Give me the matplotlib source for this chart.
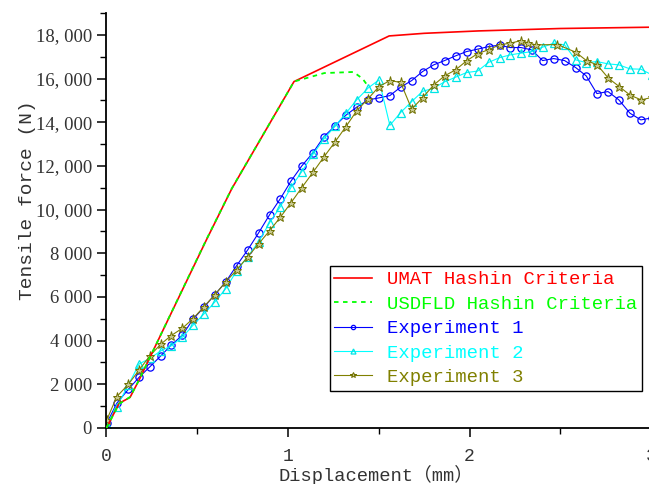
import matplotlib
matplotlib.use("Agg")
import matplotlib.pyplot as plt
from matplotlib.ticker import FixedLocator, MultipleLocator

# UMAT Hashin criteria (red, solid)
umat_disp = [0.0, 0.07, 0.13, 0.18, 0.55, 0.69, 1.033, 1.557, 1.75, 2.05, 2.5, 3.0]
umat_force = [0, 1130, 1400, 2200, 8600, 10950, 15860, 17950, 18070, 18180, 18290, 18350]

# USDFLD Hashin criteria (green, dashed)
usdfld_disp = [0.0, 0.07, 0.13, 0.18, 0.55, 0.69, 1.033, 1.2, 1.36, 1.41, 1.44]
usdfld_force = [0, 1100, 1420, 2200, 8620, 10960, 15860, 16250, 16300, 16000, 15660]

# experiments 1 and 2 share the same sampling
exp_disp = [0.002, 0.057, 0.121, 0.180, 0.240, 0.299, 0.356, 0.418, 0.477, 0.537,
            0.596, 0.657, 0.717, 0.778, 0.839, 0.899, 0.958, 1.017, 1.076, 1.138,
            1.198, 1.259, 1.319, 1.378, 1.442, 1.501, 1.561, 1.620, 1.681, 1.741,
            1.802, 1.862, 1.923, 1.983, 2.044, 2.105, 2.165, 2.224, 2.283, 2.342,
            2.402, 2.463, 2.523, 2.584, 2.642, 2.701, 2.762, 2.822, 2.883, 2.943, 3.004]
exp1_force = [215, 1131, 1772, 2322, 2808, 3298, 3788, 4246, 4978, 5528,
              6091, 6687, 7433, 8152, 8945, 9769, 10502, 11313, 12000, 12609,
              13342, 13832, 14322, 14688, 15022, 15114, 15219, 15604, 15906, 16319,
              16625, 16822, 17038, 17235, 17344, 17464, 17528, 17418, 17418, 17312,
              16822, 16914, 16822, 16502, 16122, 15311, 15403, 15022, 14413, 14106, 14198]
exp2_force = [150, 976, 1969, 2931, 3192, 3527, 3756, 4154, 4704, 5221,
              5757, 6380, 7191, 7846, 8533, 9403, 10136, 11024, 11739, 12535,
              13236, 13818, 14413, 15022, 15572, 15938, 13855, 14441, 14945, 15412,
              15558, 15847, 16062, 16273, 16341, 16740, 16955, 17083, 17161, 17235,
              17436, 17619, 17541, 16854, 16731, 16777, 16671, 16625, 16442, 16428, 16167]

exp3_disp = [0.002, 0.057, 0.121, 0.180, 0.240, 0.299, 0.356, 0.418, 0.477, 0.537,
             0.596, 0.657, 0.717, 0.778, 0.839, 0.899, 0.958, 1.017, 1.076, 1.138,
             1.198, 1.259, 1.319, 1.378, 1.442, 1.501, 1.561, 1.620, 1.681, 1.741,
             1.802, 1.862, 1.923, 1.983, 2.044, 2.105, 2.165, 2.224, 2.283, 2.323,
             2.364, 2.484, 2.584, 2.644, 2.703, 2.764, 2.824, 2.884, 2.945, 3.004]
exp3_force = [366, 1434, 2001, 2656, 3311, 3833, 4227, 4566, 5006, 5556,
              6091, 6687, 7236, 7832, 8441, 9036, 9650, 10319, 11006, 11711,
              12412, 13099, 13800, 14519, 15082, 15632, 15906, 15824, 14601, 15123,
              15700, 16122, 16396, 16809, 17138, 17322, 17541, 17619, 17734, 17633,
              17541, 17555, 17207, 16818, 16625, 16016, 15632, 15238, 15022, 15137]

y_ticks = [0, 2000, 4000, 6000, 8000, 10000, 12000, 14000, 16000, 18000]
y_tick_labels = ["0", "2 000", "4 000", "6 000", "8 000",
                 "10, 000", "12, 000", "14, 000", "16, 000", "18, 000"]
x_ticks = [0, 1, 2, 3]

mono = ["Liberation Mono", "Noto Sans CJK SC"]
serif = "Liberation Serif"
text_col = "#333333"

fig = plt.figure(figsize=(6.49, 4.84), dpi=100)
ax = fig.add_axes([106.4 / 649, 56 / 484, 544.8 / 649, 415 / 484])

ax.plot(umat_disp, umat_force, color="#ff0000", lw=1.2, label="UMAT Hashin Criteria", zorder=3)
ax.plot(usdfld_disp, usdfld_force, color="#00ff00", lw=1.3, ls=(0, (2.5, 2.5)),
        label="USDFLD Hashin Criteria", zorder=3)
ax.plot(exp_disp, exp1_force, color="#0000ff", lw=0.8, marker="o", ms=5.2,
        mfc="none", mec="#0000ff", mew=0.9, label="Experiment 1")
ax.plot(exp_disp, exp2_force, color="#00ffff", lw=0.8, marker="^", ms=6,
        mfc="none", mec="#00e5e5", mew=0.9, label="Experiment 2")
ax.plot(exp3_disp, exp3_force, color="#808000", lw=0.8, marker="*", ms=6.5,
        mfc="#c8c890", mec="#707000", mew=0.7, label="Experiment 3")

ax.set_xlim(0, 3)
ax.set_ylim(0, 19000)
ax.xaxis.set_major_locator(FixedLocator(x_ticks))
ax.xaxis.set_minor_locator(MultipleLocator(0.5))
ax.yaxis.set_major_locator(FixedLocator(y_ticks))
ax.yaxis.set_minor_locator(MultipleLocator(1000))
ax.set_yticklabels(y_tick_labels, fontfamily=serif, fontsize=13.5, color=text_col)
ax.set_xticklabels([str(t) for t in x_ticks], fontfamily=mono, fontsize=13, color=text_col)

ax.tick_params(axis="both", which="major", direction="out", length=6.5, width=1.1, colors="black")
ax.tick_params(axis="both", which="minor", direction="out", length=4, width=1.0, colors="black")
ax.tick_params(axis="x", which="major", pad=8, labelcolor=text_col)
ax.tick_params(axis="y", which="major", pad=4, labelcolor=text_col)

for side in ["top", "right"]:
    ax.spines[side].set_visible(False)
for side in ["left", "bottom"]:
    ax.spines[side].set_linewidth(1.3)

ax.set_xlabel("Displacement（mm）", family=mono, fontsize=13.5, color=text_col)
ax.set_ylabel("Tensile force (N)", family=mono, fontsize=14, color=text_col)
ax.xaxis.set_label_coords(0.495, -0.088)
ax.yaxis.set_label_coords(-0.13, 0.55)

leg = ax.legend(loc="lower left", bbox_to_anchor=(0.41, 0.09), frameon=True, fancybox=False,
                edgecolor="black", framealpha=1, prop={"family": mono, "size": 13.6},
                handlelength=2.0, handletextpad=0.8, borderpad=0.25, labelspacing=0.38,
                markerscale=0.6, numpoints=1, borderaxespad=0)
leg.get_frame().set_linewidth(1.0)
for txt, line in zip(leg.get_texts(), leg.get_lines()):
    txt.set_color(line.get_color())

fig.savefig("out.png", dpi=100)
